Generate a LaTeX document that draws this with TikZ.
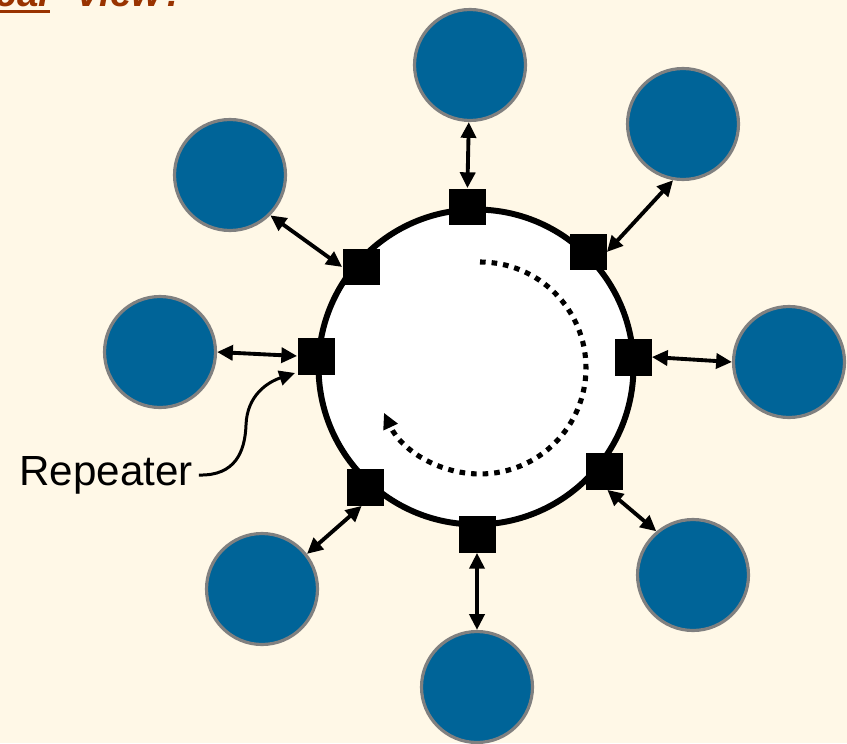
\documentclass[tikz,border=0pt]{standalone}
\usepackage{fontspec}
\setmainfont{Liberation Sans}
\usetikzlibrary{arrows.meta}
\definecolor{paper}{RGB}{255,248,231}
\definecolor{station}{RGB}{0,100,152}
\definecolor{rim}{RGB}{128,128,128}
\definecolor{heading}{RGB}{153,51,0}
\begin{document}
\begin{tikzpicture}[x=0.02cm, y=-0.02cm, >={Triangle[length=9pt,width=8.5pt]}]
		\tikzstyle{host} = [circle,draw=rim,fill=station,line width=1.8pt,minimum size=2.22cm,inner sep=0pt]
		\tikzstyle{rep} = [rectangle,fill=black,minimum size=0.74cm,inner sep=0pt]
		\tikzstyle{link} = [<->,line width=2.2pt]
		\fill[paper] (0,0) rectangle (847,743);
		\useasboundingbox (0,0) rectangle (847,743);
		% heading, mostly cut off by the page edge
		\node[anchor=base east,inner sep=0pt,text=heading,font=\fontsize{22}{26}\selectfont\bfseries\itshape](word)at (50,7){Logical};
		\node[anchor=base west,inner sep=0pt,text=heading,font=\fontsize{22}{26}\selectfont\bfseries\itshape](view)at (75,7){View?};
		\draw[heading,line width=1.8pt] ([yshift=-2.8pt]word.base west) -- ([yshift=-2.8pt]word.base east);
		% the ring and its repeaters
		\node[circle,draw,fill=white,line width=3.4pt,minimum size=6.3cm](ring)at (476,367){};
		\node[rep](r1)at (467,207){};
		\node[rep](r2)at (588,252){};
		\node[rep](r3)at (361,267){};
		\node[rep](r4)at (316,356){};
		\node[rep](r5)at (633,357){};
		\node[rep](r6)at (604,471){};
		\node[rep](r7)at (365,487){};
		\node[rep](r8)at (477,534){};
		% stations
		\node[host](c1)at (470,65){};
		\node[host](c2)at (683,124){};
		\node[host](c3)at (230,175){};
		\node[host](c4)at (160,352){};
		\node[host](c5)at (789,362){};
		\node[host](c6)at (693,575){};
		\node[host](c7)at (262,589){};
		\node[host](c8)at (477,687){};
		\path[link] (c1) edge (r1)
		(c2.260) edge (r2.east)
		(c3.-45) edge (r3.west)
		(c4.east) edge (r4.west)
		(r5.east) edge (c5.west)
		(r6.-80) edge (c6.130)
		(r7.-100) edge (c7.38)
		(r8) edge (c8);
		% label for one repeater
		\node[font=\fontsize{24}{28}\selectfont](label)at (106,475){Repeater};
		\coordinate (tip) at (295,373);
		\draw[->,line width=1.7pt] (label.east) .. controls (235,476) and (245,452) .. (246,425)
		.. controls (247,395) and (268,382) .. (tip);
		% direction of travel
		\coordinate (start) at (480,262);
		\draw[->,line width=2.9pt,dash pattern=on 3.2pt off 3.4pt] (start) arc[start angle=90,end angle=-155,radius=2.12cm];
		\end{tikzpicture}
\end{document}
